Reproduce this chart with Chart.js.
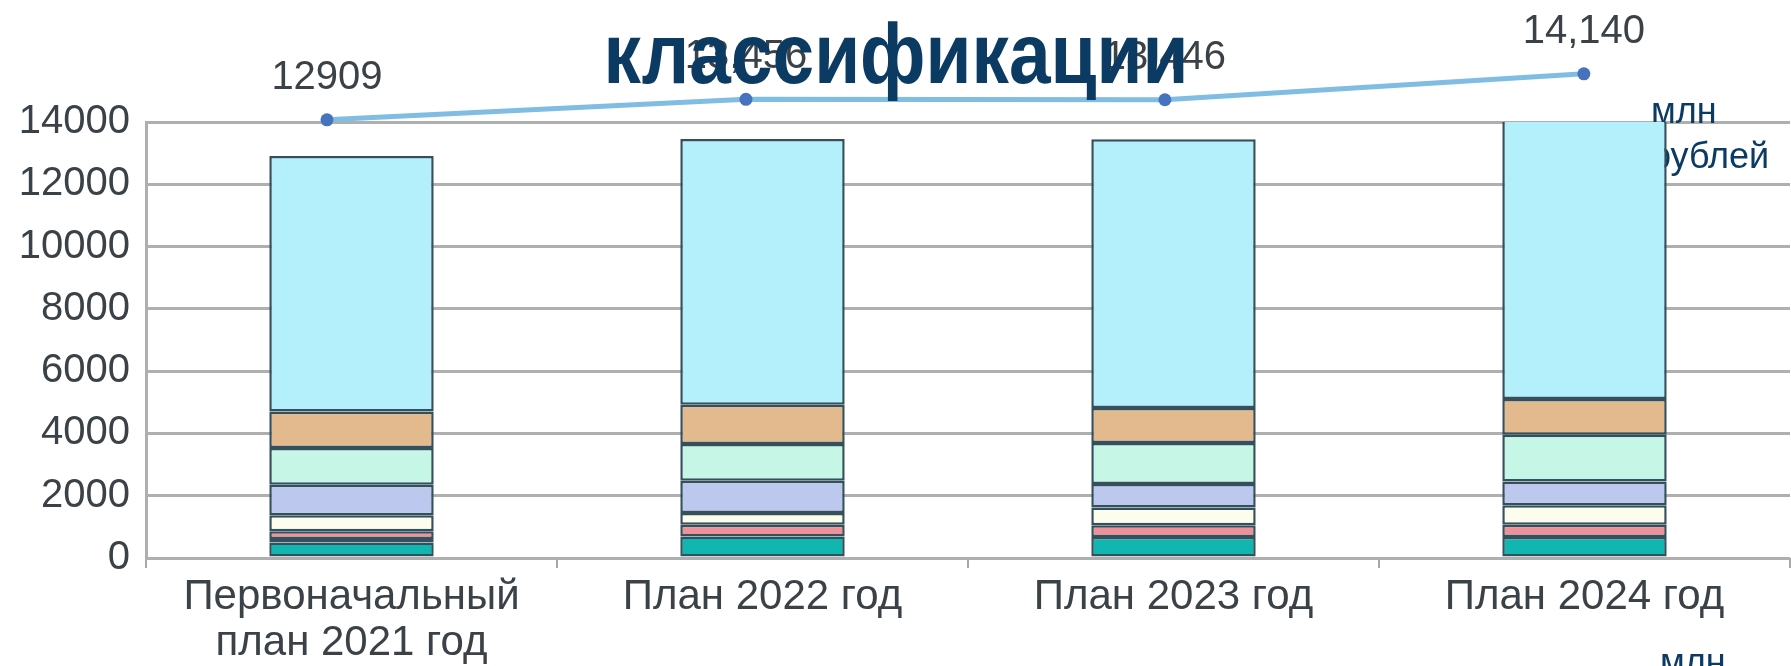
<!DOCTYPE html>
<html lang="ru">
<head>
<meta charset="utf-8">
<title>Расходы по видам классификации</title>
<script src="https://cdn.jsdelivr.net/npm/chart.js@4.4.1/dist/chart.umd.min.js"></script>
<style>
    html, body { margin: 0; padding: 0; background: #ffffff; }
    #wrap { width: 1791px; height: 666px; }
</style>
</head>
<body>
<div id="wrap"><canvas id="planChart" width="1791" height="666"></canvas></div>
<script>
// Categories and values (млн рублей)
const categories = [['Первоначальный', 'план 2021 год'], 'План 2022 год', 'План 2023 год', 'План 2024 год'];

const tealValues     = [500, 690, 675, 675];
const steelValues    = [110, null, null, null];
const pinkValues     = [245, 375, 375, 395];
const ivoryValues    = [515, 380, 575, 620];
const lavenderValues = [985, 1035, 750, 770];
const mintValues     = [1175, 1180, 1315, 1500];
const tanValues      = [1175, 1260, 1125, 1145];
const cyanValues     = [8204, 8536, 8631, 9035];

// Totals shown on the line above the bars
const totalValues = [12909, 13456, 13446, 14140];
const totalLabels = ['12909', '13,456', '13,446', '14,140'];

const yTicks = [0, 2000, 4000, 6000, 8000, 10000, 12000, 14000];

const titleText = 'классификации';
const unitLines = ['млн', 'рублей'];

const textColor = '#3b4247';
const navy = '#0b3a63';
const gridColor = '#afafaf';
const barBorder = '#34505c';

function barSet(label, data, color) {
    return {
        type: 'bar',
        label: label,
        data: data,
        stack: 'plan',
        grouped: false,
        backgroundColor: color,
        borderColor: barBorder,
        borderWidth: 2.5,
        borderSkipped: false,
        categoryPercentage: 1,
        barPercentage: 0.4,
        order: 1
    };
}

// Unit caption sits behind the bars (the last bar covers its first letter)
const unitPlugin = {
    id: 'unitCaption',
    beforeDatasetsDraw(chart) {
        const ctx = chart.ctx;
        ctx.save();
        ctx.fillStyle = navy;
        ctx.font = '36px "Liberation Sans", Arial, sans-serif';
        ctx.textAlign = 'left';
        ctx.textBaseline = 'alphabetic';
        ctx.fillText(unitLines[0], 1651, 123);
        ctx.fillText(unitLines[1], 1651, 168);
        ctx.fillText(unitLines[0], 1660, 674);
        ctx.restore();
    }
};

// Markers and value labels for the total line (points lie above the plot area)
const totalLabelPlugin = {
    id: 'totalLabels',
    afterDatasetsDraw(chart) {
        const ctx = chart.ctx;
        const meta = chart.getDatasetMeta(chart.data.datasets.length - 1);
        ctx.save();
        meta.data.forEach((pt) => {
            ctx.beginPath();
            ctx.fillStyle = '#4672c0';
            ctx.arc(pt.x, pt.y, 6.5, 0, Math.PI * 2);
            ctx.fill();
        });
        ctx.fillStyle = textColor;
        ctx.font = '40px "Liberation Sans", Arial, sans-serif';
        ctx.textAlign = 'center';
        ctx.textBaseline = 'middle';
        meta.data.forEach((pt, i) => {
            ctx.fillText(totalLabels[i], pt.x, pt.y - 42);
        });
        ctx.restore();
    }
};

// Slide heading drawn over the chart, condensed bold
const titlePlugin = {
    id: 'slideTitle',
    afterDraw(chart) {
        const ctx = chart.ctx;
        ctx.save();
        ctx.fillStyle = navy;
        ctx.font = 'bold 85px "Liberation Sans", Arial, sans-serif';
        ctx.textAlign = 'center';
        ctx.textBaseline = 'alphabetic';
        ctx.translate(896, 83);
        ctx.scale(0.88, 1);
        ctx.fillText(titleText, 0, 0);
        ctx.restore();
    }
};

const ctx = document.getElementById('planChart').getContext('2d');
const chart = new Chart(ctx, {
    data: {
        labels: categories,
        datasets: [
            barSet('Бирюзовый', tealValues, '#12b6b0'),
            barSet('Серо-синий', steelValues, '#8ea6cf'),
            barSet('Розовый', pinkValues, '#ef9199'),
            barSet('Слоновая кость', ivoryValues, '#fdfdee'),
            barSet('Лавандовый', lavenderValues, '#bdc8ee'),
            barSet('Мятный', mintValues, '#c5f6e6'),
            barSet('Песочный', tanValues, '#e3b98e'),
            barSet('Голубой', cyanValues, '#b3f0fc'),
            {
                type: 'line',
                label: 'Итого',
                data: totalValues.map((v, i) => ({ x: i, y: v })),
                xAxisID: 'x2',
                yAxisID: 'y2',
                borderColor: '#7fbde3',
                borderWidth: 5,
                pointRadius: 0,
                tension: 0,
                clip: false,
                order: 0
            }
        ]
    },
    options: {
        responsive: false,
        animation: false,
        devicePixelRatio: 1,
        layout: { padding: { top: 122, right: 1, left: 0, bottom: 0 } },
        plugins: {
            legend: { display: false },
            tooltip: { enabled: false },
            title: { display: false }
        },
        scales: {
            x: {
                stacked: true,
                offset: true,
                grid: {
                    offset: true,
                    drawOnChartArea: false,
                    color: '#a8a8a8',
                    lineWidth: 2,
                    tickLength: 10
                },
                border: { display: false },
                ticks: {
                    color: textColor,
                    font: { family: '"Liberation Sans", Arial, sans-serif', size: 42, lineHeight: 1.1 },
                    padding: 6,
                    maxRotation: 0,
                    autoSkip: false
                },
                afterFit(axis) { axis.height = 108; }
            },
            x2: {
                type: 'linear',
                display: false,
                min: -0.432,
                max: 3.492
            },
            y: {
                stacked: true,
                min: 0,
                max: 14000,
                grid: { color: gridColor, lineWidth: 3, drawTicks: false },
                border: { display: true, color: gridColor, width: 3 },
                afterBuildTicks(axis) { axis.ticks = yTicks.map(v => ({ value: v })); },
                ticks: {
                    color: textColor,
                    font: { family: '"Liberation Sans", Arial, sans-serif', size: 40 },
                    padding: 16,
                    callback: (v) => String(v)
                },
                afterFit(axis) { axis.width = 146; }
            },
            y2: {
                type: 'linear',
                display: false,
                min: 1180,
                max: 12850
            }
        }
    },
    plugins: [unitPlugin, totalLabelPlugin, titlePlugin]
});
</script>
</body>
</html>
